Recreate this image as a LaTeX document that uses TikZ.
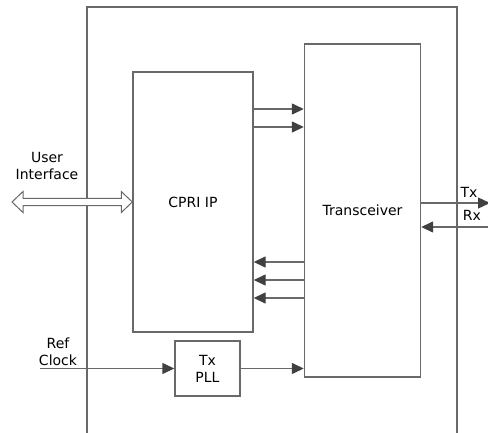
\documentclass[tikz,border=0pt]{standalone}
\usepackage{fontspec}
\setmainfont{DejaVu Sans}
\usepackage{tikz}
\usetikzlibrary{positioning,calc}
\usetikzlibrary{arrows.meta}
\definecolor{LineGray}{RGB}{105,105,105}
\definecolor{TipGray}{RGB}{64,64,64}
\tikzset{
  blk/.style={draw=LineGray,line width=1.4pt,fill=white,inner sep=0pt,align=center},
  link/.style={draw=LineGray,line width=1.4pt,-{Triangle[length=12pt,width=11pt,color=TipGray]}},
  lbl/.style={font=\fontsize{14}{17}\selectfont,align=center,inner sep=0pt},
}

\begin{document}
\begin{tikzpicture}[x=1pt,y=-1pt,font=\fontsize{14}{17}\selectfont]
\useasboundingbox (0,0) rectangle (488,432);
% outer frame, open at the bottom
\draw[LineGray,line width=1.4pt] (87,445) -- (87,7) -- (457,7) -- (457,445);
\node[blk,minimum width=120,minimum height=260] (cpri) at (193,202) {CPRI IP};
\node[blk,minimum width=116,minimum height=333] (trans) at (362.5,210.5) {Transceiver};
\node[blk,minimum width=65,minimum height=55] (pll) at (207.5,368.5) {Tx\\PLL};
\coordinate (ui) at (12,202);
\coordinate (ref) at (40,368.5);
\coordinate (tx) at (490,203);
\coordinate (rx) at (490,227);
% user interface double arrow
\draw[LineGray,line width=1pt,fill=white] (ui) -- ++(11,-10.5) -- ++(0,6.8) -- ($(cpri.west|-ui)+(-11,-3.7)$)
  -- ++(0,-6.8) -- (cpri.west|-ui) -- ++(-11,10.5) -- ++(0,-6.8) -- ($(ui)+(11,3.7)$) -- ++(0,6.8) -- cycle;
\node[lbl] (uilab) at (47,166) {User\\Interface};
% cpri to transceiver
\draw[link] (cpri.east|-{0,109}) -- (trans.west|-{0,109});
\draw[link] (cpri.east|-{0,127}) -- (trans.west|-{0,127});
% transceiver to cpri
\foreach \yy in {262,280,298}
  \draw[link] (trans.west|-{0,\yy}) -- (cpri.east|-{0,\yy});
% clock path
\draw[link] (ref) -- (pll.west);
\draw[link] (pll.east) -- (trans.west|-pll.east);
\node[lbl] (reflab) at (58,352) {Ref\\Clock};
% serial lines
\draw[link] (trans.east|-tx) -- (tx);
\draw[link] (rx) -- (trans.east|-rx);
\node[lbl] (txlab) at (469,192) {Tx};
\node[lbl] (rxlab) at (472,215) {Rx};
\end{tikzpicture}
\end{document}
